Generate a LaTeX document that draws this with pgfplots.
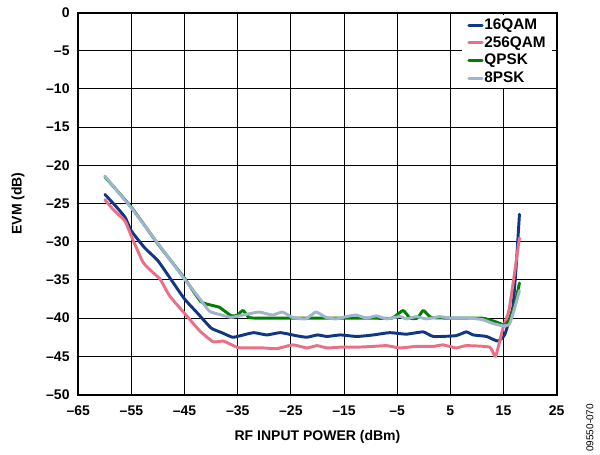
\documentclass[border=0pt]{standalone}
\usepackage{fontspec}
\setmainfont{Liberation Sans}
\usepackage{pgfplots}
\pgfplotsset{compat=1.18}
\definecolor{c16}{RGB}{18,55,130}
\definecolor{c256}{RGB}{234,112,136}
\definecolor{cqpsk}{RGB}{0,128,0}
\definecolor{c8psk}{RGB}{160,180,208}
\begin{document}
\begin{tikzpicture}
\begin{axis}[
  at={(0,0)}, anchor=south west,
  scale only axis,
  width=358.8pt, height=286.5pt,
  xmin=-65, xmax=25, ymin=-50, ymax=0,
  xtick={-65,-55,...,25},
  xticklabels={--65,--55,--45,--35,--25,--15,--5,5,15,25},
  ytick={-50,-45,...,0},
  yticklabels={--50,--45,--40,--35,--30,--25,--20,--15,--10,--5,0},
  major tick length=0pt,
  grid=major,
  major grid style={black, line width=0.75pt},
  axis line style={black, line width=1.5pt},
  tick label style={font=\bfseries\fontsize{10.5}{12}\selectfont},
  xticklabel style={yshift=-5pt},
  yticklabel style={xshift=-3pt},
  label style={font=\bfseries\fontsize{10.5}{12}\selectfont},
  xlabel={RF INPUT POWER (dBm)},
  ylabel={EVM (dB)},
  xlabel style={at={(axis description cs:0.5,-0.111)}, anchor=center},
  ylabel style={at={(axis description cs:-0.126,0.5)}, anchor=center},
  legend cell align=left,
  legend style={at={(1,1)}, anchor=north east, xshift=-3.5pt, yshift=-2pt,
    draw=none, fill=white, font=\bfseries\fontsize{11.5}{12}\selectfont,
    nodes={inner sep=0.5pt, text height=9pt, text depth=2.5pt},
    row sep=0.8pt,
    inner xsep=4pt, inner ysep=1pt},
  legend image code/.code={\draw[#1, line width=2.2pt] (0pt,0pt) -- (10pt,0pt);},
  every axis plot/.append style={line width=2.2pt, line join=round, line cap=round, smooth, tension=0.3},
]
\addplot[c16] table {
-60 -23.8
-58 -25.3
-56.2 -26.8
-55 -28.6
-52.5 -30.8
-50 -32.5
-47.5 -35.0
-45 -37.5
-42.5 -39.4
-40 -41.3
-38 -41.9
-36 -42.5
-34.5 -42.3
-32 -41.9
-29.5 -42.2
-27 -41.9
-24 -42.3
-22 -42.5
-20 -42.2
-18.2 -42.4
-15.7 -42.2
-12.6 -42.4
-9.5 -42.2
-6.4 -41.9
-3.3 -42.1
-0.1 -41.8
1.8 -42.4
6 -42.3
8 -41.8
9.3 -42.2
11.8 -42.4
13.9 -43.0
15.2 -42.2
16.2 -40.0
16.8 -38.4
17.4 -33
18 -26.4
};
\addlegendentry{16QAM}
\addplot[c256] table {
-60 -24.5
-58.4 -25.8
-56.2 -27.3
-55 -29.3
-52.8 -32.7
-51 -34.0
-49.6 -34.9
-47.8 -37.1
-44.6 -39.7
-42.1 -41.7
-39.6 -43.1
-37.7 -43.0
-35.2 -43.8
-34 -43.9
-30.2 -43.9
-27.7 -44.0
-24.6 -43.5
-22 -43.9
-20.1 -43.6
-18.2 -43.9
-15.7 -43.8
-12.6 -43.8
-9.5 -43.7
-7 -43.6
-4.5 -43.9
-1.4 -43.7
1.8 -43.7
3.6 -43.5
6.1 -43.9
8 -43.6
12.4 -43.8
13.5 -45.0
14.9 -41.3
16.1 -38.7
18 -29.5
};
\addlegendentry{256QAM}
\addplot[cqpsk] table {
-60 -21.5
-55 -25.5
-50 -30.3
-45 -34.8
-42 -37.8
-40 -38.3
-38.4 -38.6
-36.2 -39.7
-35.1 -39.6
-34 -39.0
-32.9 -39.9
-31 -40.0
-20 -40.0
-10 -40.0
-6 -40.0
-3.9 -39.0
-2.6 -40.0
-1.2 -40.0
-0.1 -39.0
1.4 -39.9
5 -40.0
11 -40.0
13.6 -40.5
15.2 -40.9
16.1 -40.2
17.1 -38.3
18 -35.4
};
\addlegendentry{QPSK}
\addplot[c8psk] table {
-60 -21.4
-55 -25.6
-49.6 -30.6
-45 -34.9
-42.1 -37.5
-40.3 -39.1
-38 -39.6
-36.2 -39.9
-34 -39.6
-31 -39.2
-28.5 -39.6
-26.6 -39.2
-24.7 -39.9
-22.2 -40.1
-20.3 -39.2
-18.4 -39.9
-16.5 -40.1
-14.6 -39.8
-12.7 -39.6
-10.8 -40.0
-8.9 -39.7
-7 -40.1
-4.5 -39.8
-3.25 -40.1
-1.4 -39.8
0.5 -40.1
3 -39.8
4.9 -40.0
8.6 -40.0
11.1 -40.2
13 -40.7
14.9 -41.0
16.1 -40.8
17.1 -38.7
18 -36.4
};
\addlegendentry{8PSK}
\end{axis}
\node[rotate=90, font=\fontsize{7.5}{8}\selectfont, inner sep=0pt] at (383.8pt,-25pt) {09550-070};
\pgfresetboundingbox
\useasboundingbox (-58.7pt,-44.6pt) rectangle (391.3pt,295.9pt);
\end{tikzpicture}
\end{document}
